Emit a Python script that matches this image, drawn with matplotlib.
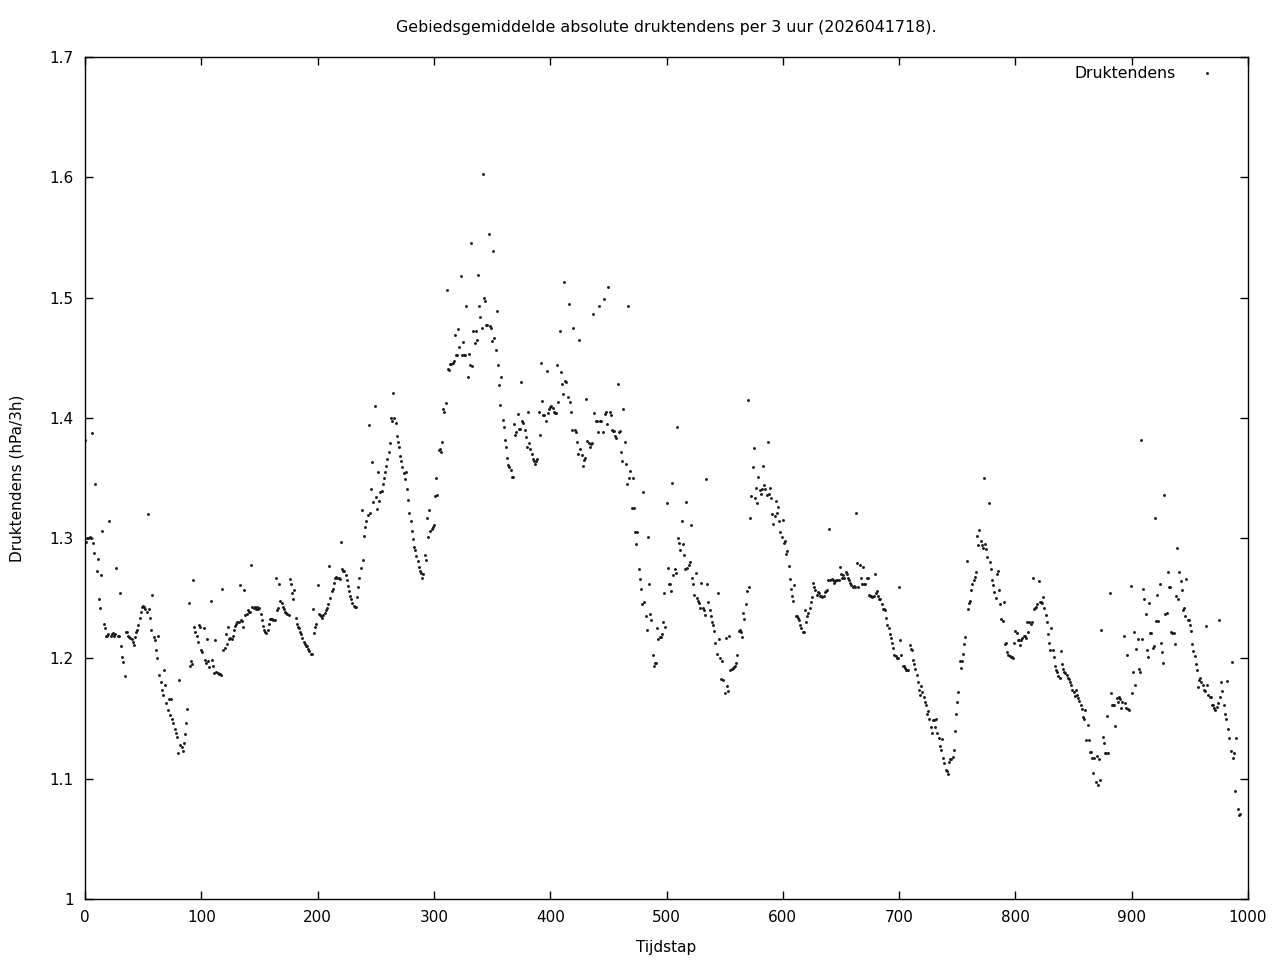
import numpy as np
import matplotlib
matplotlib.use("Agg")
import matplotlib.pyplot as plt
from matplotlib.ticker import FormatStrFormatter

title = "Gebiedsgemiddelde absolute druktendens per 3 uur (2026041718)."
x_label = "Tijdstap"
y_label = "Druktendens (hPa/3h)"
series_name = "Druktendens"
x_ticks = [0, 100, 200, 300, 400, 500, 600, 700, 800, 900, 1000]
y_ticks = [1.0, 1.1, 1.2, 1.3, 1.4, 1.5, 1.6, 1.7]

# Values per time step, in blocks (block start step -> values)
start_a = 0
vals_a = [1.382, 1.297, 1.300, 1.300, 1.301, 1.300, 1.387, 1.296, 1.288, 1.345,
          1.273, 1.283, 1.249, 1.242, 1.269, 1.306, 1.229, 1.225, 1.219, 1.219,
          1.220, 1.314, 1.219, 1.220, 1.221, 1.219, 1.220, 1.275, 1.219, 1.219,
          1.254, 1.210, 1.201, 1.197, 1.185, 1.222, 1.222, 1.219, 1.218, 1.217,
          1.216, 1.214, 1.211, 1.218, 1.222, 1.224, 1.228, 1.234, 1.239, 1.243,
          1.244, 1.243, 1.241, 1.239, 1.320, 1.241, 1.234, 1.224, 1.253, 1.218,
          1.215, 1.207, 1.200, 1.219, 1.186, 1.180, 1.174, 1.170, 1.190, 1.178,
          1.163, 1.157, 1.166, 1.153, 1.166, 1.150, 1.146, 1.141, 1.138, 1.135,
          1.121, 1.182, 1.128, 1.126, 1.123, 1.130, 1.137, 1.146, 1.158, 1.246,
          1.194, 1.198, 1.195, 1.265, 1.226, 1.222, 1.219, 1.214, 1.228, 1.226,
          1.207, 1.205, 1.225, 1.199]
start_b = 104
vals_b = [1.196, 1.216, 1.198, 1.193, 1.248, 1.199, 1.194, 1.188, 1.215, 1.189,
          1.188, 1.187, 1.187, 1.186, 1.258, 1.207, 1.209, 1.220, 1.212, 1.226,
          1.216, 1.217, 1.216, 1.219, 1.224, 1.227, 1.229, 1.230, 1.230, 1.261,
          1.232, 1.231, 1.226, 1.257, 1.236, 1.237, 1.240, 1.239, 1.239, 1.278,
          1.243, 1.242, 1.243, 1.241, 1.243, 1.241, 1.242, 1.237, 1.232, 1.227,
          1.224, 1.222, 1.221, 1.224, 1.229, 1.233, 1.233, 1.233, 1.232, 1.232,
          1.267, 1.240, 1.242, 1.262, 1.248, 1.246, 1.243, 1.241, 1.239, 1.238,
          1.237, 1.236, 1.266, 1.262, 1.254, 1.249, 1.257, 1.234, 1.229, 1.226,
          1.225, 1.222, 1.220, 1.217, 1.214, 1.212, 1.210, 1.210, 1.208, 1.206,
          1.204, 1.204, 1.241, 1.221, 1.226, 1.229, 1.261]
start_c = 201
vals_c = [1.237, 1.236, 1.235, 1.234, 1.236, 1.238, 1.240, 1.242, 1.245, 1.277,
          1.250, 1.256, 1.258, 1.263, 1.267, 1.268, 1.267, 1.267, 1.266, 1.297,
          1.274, 1.273, 1.273, 1.269, 1.265, 1.260, 1.256, 1.252, 1.249, 1.246,
          1.244, 1.243, 1.243, 1.251, 1.259, 1.267, 1.275, 1.323, 1.282, 1.302,
          1.309, 1.314, 1.319, 1.394, 1.321, 1.341, 1.363, 1.330, 1.410, 1.334,
          1.324, 1.355, 1.331, 1.338, 1.339, 1.345, 1.350, 1.355, 1.360, 1.366,
          1.372, 1.379, 1.400, 1.397, 1.421, 1.400, 1.396, 1.385, 1.380, 1.376,
          1.368, 1.364, 1.359, 1.354, 1.349, 1.355, 1.341, 1.332, 1.321, 1.314,
          1.306, 1.299, 1.293, 1.290, 1.285, 1.281, 1.276, 1.273, 1.271, 1.267,
          1.270, 1.286, 1.282, 1.317, 1.301, 1.323, 1.306, 1.308, 1.309, 1.311]
start_d = 301
vals_d = [1.335, 1.350, 1.336, 1.373, 1.374, 1.372, 1.380, 1.407, 1.405, 1.412,
          1.506, 1.441, 1.440, 1.445, 1.445, 1.446, 1.447, 1.469, 1.452, 1.452,
          1.474, 1.459, 1.518, 1.452, 1.463, 1.452, 1.452, 1.493, 1.434, 1.453,
          1.444, 1.545, 1.443, 1.472, 1.462, 1.472, 1.465, 1.519, 1.493, 1.484,
          1.475, 1.603, 1.500, 1.497, 1.477, 1.477, 1.553, 1.476, 1.475, 1.464,
          1.539, 1.466, 1.456, 1.489, 1.444, 1.427, 1.411, 1.434, 1.398, 1.392,
          1.382, 1.376, 1.367, 1.361, 1.359, 1.357, 1.351, 1.351, 1.395, 1.386,
          1.388, 1.403, 1.391, 1.391, 1.430, 1.397, 1.396, 1.390, 1.384, 1.376,
          1.405, 1.379, 1.374, 1.370, 1.366, 1.364, 1.362, 1.364, 1.366, 1.405,
          1.386, 1.446, 1.414, 1.402, 1.402, 1.397, 1.439, 1.404]
start_e = 399
vals_e = [1.407, 1.409, 1.410, 1.408, 1.405, 1.404, 1.404, 1.444, 1.413, 1.472,
          1.438, 1.428, 1.420, 1.513, 1.431, 1.430, 1.417, 1.495, 1.413, 1.405,
          1.390, 1.475, 1.390, 1.388, 1.380, 1.370, 1.465, 1.374, 1.369, 1.360,
          1.365, 1.367, 1.416, 1.381, 1.379, 1.376, 1.378, 1.379, 1.486, 1.404,
          1.397, 1.397, 1.388, 1.493, 1.397, 1.397, 1.388, 1.499, 1.403, 1.405,
          1.395, 1.509, 1.405, 1.402, 1.390, 1.389, 1.389, 1.385, 1.383, 1.428,
          1.388, 1.389, 1.372, 1.364, 1.407, 1.380, 1.362, 1.345, 1.493, 1.350,
          1.356, 1.325, 1.350, 1.325, 1.305, 1.295, 1.305, 1.274, 1.266, 1.258,
          1.245, 1.338, 1.247, 1.235, 1.224, 1.301, 1.262, 1.237, 1.232, 1.203,
          1.194, 1.196, 1.196, 1.225, 1.216, 1.218, 1.218, 1.220, 1.230, 1.254]
start_f = 499
vals_f = [1.226, 1.329, 1.275, 1.262, 1.262, 1.256, 1.346, 1.269, 1.274, 1.271,
          1.392, 1.300, 1.296, 1.290, 1.314, 1.295, 1.286, 1.274, 1.330, 1.275,
          1.278, 1.280, 1.311, 1.267, 1.262, 1.253, 1.271, 1.250, 1.248, 1.246,
          1.242, 1.263, 1.242, 1.240, 1.236, 1.349, 1.262, 1.247, 1.240, 1.235,
          1.230, 1.228, 1.223, 1.213, 1.204, 1.254, 1.216, 1.200, 1.183, 1.198,
          1.182, 1.171, 1.217, 1.177, 1.173, 1.219, 1.190, 1.191, 1.192, 1.193,
          1.194, 1.196, 1.203, 1.223, 1.224, 1.222, 1.218, 1.238, 1.233, 1.245,
          1.256, 1.415, 1.259, 1.317, 1.335, 1.359, 1.375, 1.333, 1.342, 1.329,
          1.351, 1.340, 1.337, 1.341, 1.360, 1.344, 1.341, 1.336, 1.380, 1.337,
          1.342, 1.333, 1.320, 1.312, 1.318, 1.331, 1.321, 1.326, 1.314, 1.305]
start_g = 599
vals_g = [1.301, 1.315, 1.296, 1.298, 1.287, 1.289, 1.277, 1.266, 1.258, 1.252,
          1.248, 1.261, 1.235, 1.235, 1.234, 1.232, 1.228, 1.225, 1.222, 1.222,
          1.240, 1.230, 1.235, 1.238, 1.242, 1.247, 1.251, 1.263, 1.259, 1.257,
          1.253, 1.255, 1.254, 1.252, 1.252, 1.251, 1.252, 1.255, 1.256, 1.257,
          1.265, 1.308, 1.265, 1.266, 1.265, 1.263, 1.264, 1.265, 1.265, 1.265,
          1.276, 1.270, 1.267, 1.269, 1.267, 1.272, 1.270, 1.267, 1.265, 1.263,
          1.261, 1.259, 1.260, 1.259, 1.321, 1.279, 1.259, 1.278, 1.267, 1.262,
          1.276, 1.262, 1.262, 1.267, 1.267, 1.253, 1.252, 1.252, 1.251, 1.252,
          1.270, 1.254, 1.256, 1.252, 1.249, 1.249, 1.245, 1.241, 1.241, 1.240,
          1.234, 1.228, 1.225, 1.220, 1.217, 1.213, 1.209, 1.203]
start_h = 697
vals_h = [1.202, 1.200, 1.200, 1.259, 1.215, 1.203, 1.194, 1.194, 1.192, 1.190,
          1.190, 1.190, 1.211, 1.208, 1.207, 1.199, 1.195, 1.191, 1.186, 1.180,
          1.174, 1.170, 1.177, 1.172, 1.168, 1.164, 1.161, 1.154, 1.156, 1.150,
          1.143, 1.138, 1.149, 1.149, 1.143, 1.150, 1.138, 1.134, 1.127, 1.124,
          1.133, 1.117, 1.113, 1.107, 1.106, 1.104, 1.114, 1.116, 1.116, 1.118,
          1.124, 1.140, 1.154, 1.164, 1.172, 1.198, 1.192, 1.198, 1.204, 1.212,
          1.218, 1.281, 1.241, 1.246, 1.248, 1.257, 1.262, 1.265, 1.268, 1.272,
          1.302, 1.294, 1.307, 1.298, 1.294, 1.292, 1.350, 1.295, 1.291, 1.284,
          1.329, 1.280, 1.274, 1.265, 1.261, 1.255, 1.250, 1.270, 1.273, 1.257,
          1.245, 1.233, 1.231, 1.247, 1.212]
start_i = 792
vals_i = [1.213, 1.205, 1.203, 1.202, 1.201, 1.201, 1.200, 1.213, 1.223, 1.221,
          1.215, 1.215, 1.211, 1.215, 1.217, 1.219, 1.219, 1.217, 1.230, 1.222,
          1.230, 1.229, 1.230, 1.267, 1.241, 1.242, 1.243, 1.245, 1.264, 1.247,
          1.247, 1.246, 1.251, 1.242, 1.236, 1.230, 1.220, 1.213, 1.207, 1.225,
          1.207, 1.201, 1.194, 1.190, 1.189, 1.185, 1.184, 1.206, 1.195, 1.191,
          1.189, 1.188, 1.186, 1.184, 1.183, 1.180, 1.178, 1.174, 1.172, 1.169,
          1.174, 1.170, 1.167, 1.165, 1.161, 1.158, 1.151, 1.150, 1.157, 1.132,
          1.145, 1.132, 1.122, 1.122, 1.117, 1.105, 1.117, 1.097, 1.119, 1.095,
          1.116, 1.099, 1.224, 1.135, 1.130, 1.121, 1.121, 1.152, 1.121, 1.254,
          1.171, 1.161, 1.161, 1.161, 1.144, 1.167, 1.164, 1.168, 1.166, 1.159,
          1.164, 1.219, 1.163, 1.159]
start_j = 896
vals_j = [1.203, 1.158, 1.157, 1.260, 1.171, 1.189, 1.222, 1.178, 1.208, 1.216,
          1.191, 1.189, 1.382, 1.216, 1.258, 1.249, 1.237, 1.207, 1.201, 1.246,
          1.221, 1.221, 1.209, 1.210, 1.317, 1.231, 1.253, 1.231, 1.262, 1.213,
          1.205, 1.196, 1.336, 1.237, 1.238, 1.272, 1.259, 1.259, 1.222, 1.221,
          1.221, 1.212, 1.252, 1.292, 1.249, 1.272, 1.264, 1.257, 1.240, 1.242,
          1.235, 1.266, 1.232, 1.232, 1.228, 1.223, 1.212, 1.206, 1.202, 1.195,
          1.190, 1.176, 1.182, 1.184, 1.180, 1.178, 1.174, 1.173, 1.227, 1.178,
          1.170, 1.168, 1.168, 1.161, 1.161, 1.159, 1.157, 1.160, 1.163, 1.232,
          1.168, 1.180, 1.173, 1.161, 1.154, 1.150, 1.181, 1.141, 1.134, 1.123,
          1.197, 1.117, 1.121, 1.090, 1.134, 1.075, 1.070, 1.071]

blocks = [(start_a, vals_a), (start_b, vals_b), (start_c, vals_c), (start_d, vals_d),
          (start_e, vals_e), (start_f, vals_f), (start_g, vals_g), (start_h, vals_h),
          (start_i, vals_i), (start_j, vals_j)]

steps = np.concatenate([np.arange(s, s + len(v)) for s, v in blocks])
values = np.concatenate([np.array(v) for s, v in blocks])

plt.rcParams['font.family'] = ['DejaVu Sans']
fig = plt.figure(figsize=(12.8, 9.6), dpi=100)
ax = fig.add_axes([85 / 1280, 1 - 899 / 960, (1248 - 85) / 1280, (899 - 57) / 960])

ax.plot(steps, values, linestyle='none', marker='o', markersize=2.1,
        markerfacecolor='#1a1a1a', markeredgecolor='#1a1a1a', markeredgewidth=0,
        label=series_name)

ax.set_xlim(0, 1000)
ax.set_ylim(1.0, 1.7)
ax.set_xticks(x_ticks)
ax.set_yticks(y_ticks)
ax.yaxis.set_major_formatter(FormatStrFormatter('%g'))
ax.tick_params(direction='in', length=6, width=1, top=True, right=True,
               labelsize=11, pad=8, color='black')
for sp in ax.spines.values():
    sp.set_linewidth(1)
    sp.set_color('black')

ax.set_title(title, fontsize=11.4, pad=18)
ax.set_xlabel(x_label, fontsize=11, labelpad=11)
ax.set_ylabel(y_label, fontsize=11, labelpad=18)

leg = ax.legend(loc='upper right', frameon=False, markerfirst=False, fontsize=11.3,
                handlelength=2.3, markerscale=1.0, borderaxespad=0.2,
                bbox_to_anchor=(0.988, 1.0))

fig.savefig('out.png', dpi=100)
